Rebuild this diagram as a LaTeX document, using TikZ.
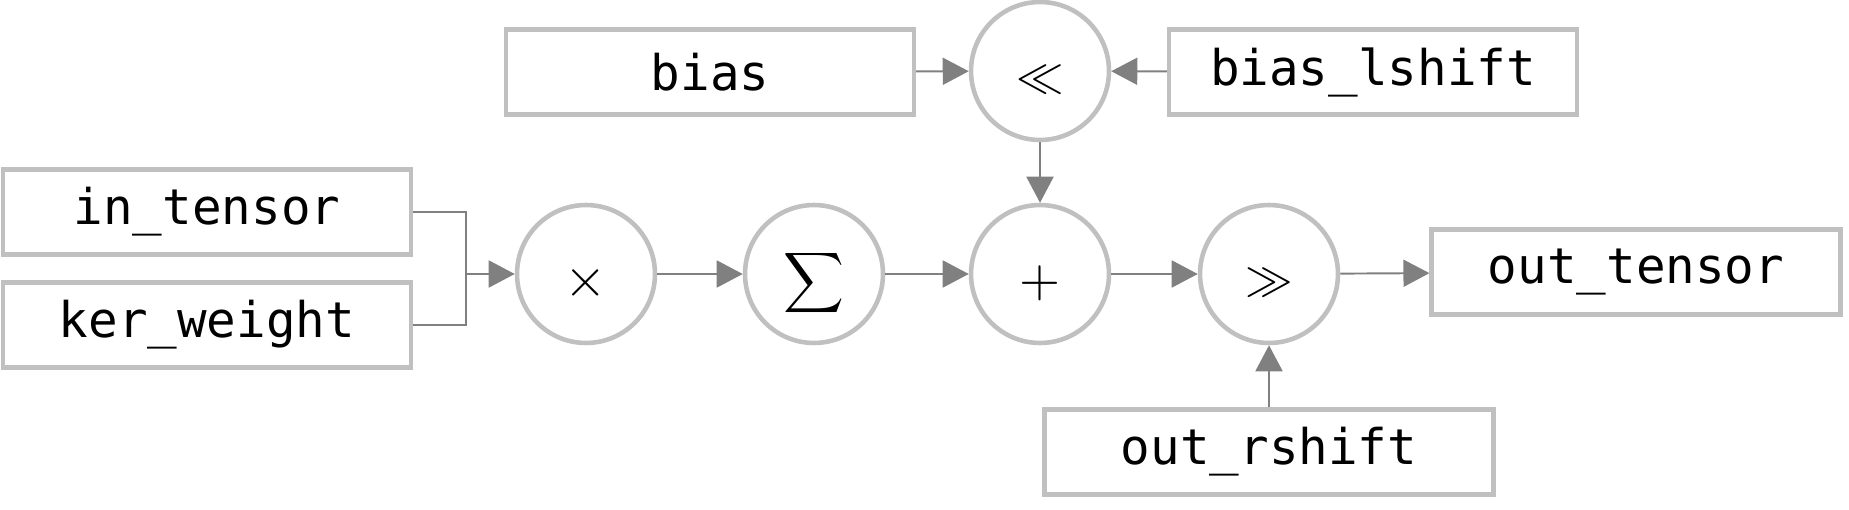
\documentclass[tikz,border=0pt]{standalone}
\usepackage{fontspec}
\usepackage{graphicx}
\setmonofont{DejaVu Sans Mono}
\usetikzlibrary{arrows.meta}

\definecolor{boxgray}{RGB}{192,192,192}
\definecolor{linegray}{RGB}{128,128,128}

% operator symbol, scaled and set a little below the centre
\newcommand{\opsym}[2][2.8]{\smash{\raisebox{-7.6pt}{$\vcenter{\hbox{\scalebox{#1}{$\displaystyle#2$}}}$}}}

\tikzset{
  tensor/.style={draw=boxgray, line width=2.4pt, minimum width=8.16cm,
    minimum height=1.7cm, inner sep=0pt, font=\fontsize{28}{30}\selectfont\ttfamily},
  op/.style={circle, draw=boxgray, line width=2.6pt, minimum size=2.76cm,
    inner sep=0pt},
  link/.style={draw=linegray, line width=1.1pt},
  flow/.style={link, -{Triangle[length=0.52cm,width=0.54cm]}}
}

\begin{document}
\begin{tikzpicture}[x=0.02cm,y=-0.02cm]
\useasboundingbox (0,0) rectangle (1849,510);

% inputs
\node[tensor] (in_tensor) at (207,212) {in\_tensor};
\node[tensor] (ker_weight) at (207,325) {ker\_weight};
\node[tensor] (bias) at (710,72) {bias};
\node[tensor] (bias_lshift) at (1373,72) {bias\_lshift};
\node[tensor,minimum width=8.98cm] (out_rshift) at (1269,452) {out\_rshift};
\node[tensor,minimum width=8.18cm] (out_tensor) at (1636,272) {out\_tensor};

% operators
\node[op] (mul) at (586,274) {\opsym[3.1]{\times}};
\node[op] (sum) at (814,274) {\opsym[2.4]{\sum}};
\node[op] (add) at (1040,274) {\opsym[3.0]{+}};
\node[op] (rsh) at (1269,274) {\opsym[2.7]{\gg}};
\node[op] (lsh) at (1040,71) {\opsym[2.7]{\ll}};
\coordinate (join) at (466,274);

% connections
\draw[link] (in_tensor.east) -| (join);
\draw[link] (ker_weight.east) -| (join);
\draw[flow] (join) -- (mul);
\draw[flow] (mul) -- (sum);
\draw[flow] (sum) -- (add);
\draw[flow] (add) -- (rsh);
\draw[flow] (rsh) -- (out_tensor);
\draw[flow] (bias) -- (lsh);
\draw[flow] (bias_lshift) -- (lsh);
\draw[flow] (lsh) -- (add);
\draw[flow] (out_rshift) -- (rsh);
\end{tikzpicture}
\end{document}
